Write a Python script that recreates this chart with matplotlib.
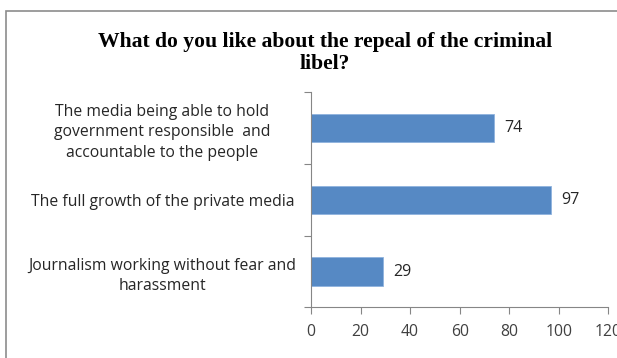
import matplotlib
matplotlib.use("Agg")
import matplotlib.pyplot as plt
from matplotlib.patches import Rectangle

categories = ["The media being able to hold\ngovernment responsible  and\naccountable to the people",
              "The full growth of the private media",
              "Journalism working without fear and\nharassment"]
values = [74, 97, 29]
xticks = [0, 20, 40, 60, 80, 100, 120]
title = "What do you like about the repeal of the criminal\nlibel?"

W, H = 617, 358
fig = plt.figure(figsize=(W/100, H/100), dpi=100)
fig.patch.set_facecolor("white")

# outer chart frame
fig.patches.append(Rectangle((5.5/W, -0.1), 1.2, 1 - 10.5/H + 0.1, transform=fig.transFigure,
                             fill=False, edgecolor="#8c8c8c", linewidth=1.2))

ax = fig.add_axes([311/W, 1 - 307.4/H, (608.3-311)/W, (307.4-92.3)/H])
ypos = list(range(len(categories)))
ax.barh(ypos, values, height=0.4, color="#5689c4", edgecolor="#8fb3de", linewidth=0.6)
ax.set_ylim(2.5, -0.5)
ax.set_xlim(0, 120)
ax.set_xticks(xticks)
ax.set_xticklabels([str(t) for t in xticks], fontsize=11.3, color="#404040", family="Open Sans")
ax.set_yticks(ypos)
ax.set_yticklabels(categories, fontsize=11.3, color="#262626", family="Open Sans", ha="center",
                   linespacing=1.38)
ax.tick_params(axis="y", length=0, pad=0)
for lab in ax.get_yticklabels():
    lab.set_x(-0.5)
ax.set_yticks([-0.5, 0.5, 1.5, 2.5], minor=True)
ax.tick_params(axis="y", which="minor", length=5, color="#868686", width=0.8)
ax.tick_params(axis="x", length=5, color="#868686", width=0.8, pad=7)
for s in ["top", "right"]:
    ax.spines[s].set_visible(False)
for s in ["left", "bottom"]:
    ax.spines[s].set_color("#868686")
    ax.spines[s].set_linewidth(0.8)
for y, v in zip(ypos, values):
    ax.text(v + 4, y, str(v), va="center", ha="left", fontsize=11.5, color="#262626", family="Open Sans")

fig.text(325/W, 1 - 53/H, title, ha="center", va="center", fontsize=15.6, fontweight="bold",
         family="Liberation Serif", linespacing=1.1)

fig.savefig("out.png", dpi=100)
